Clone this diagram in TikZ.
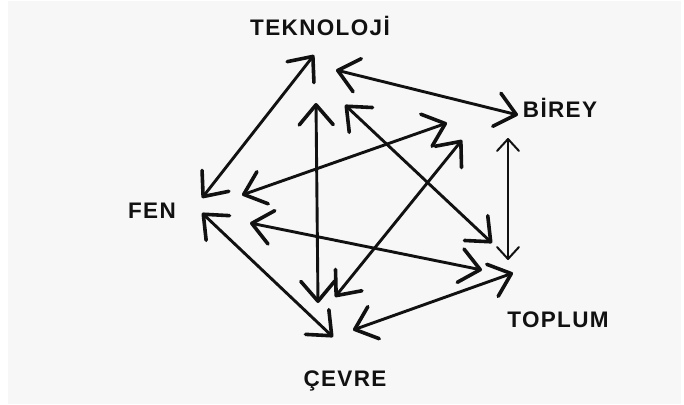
\documentclass[tikz,border=0pt]{standalone}
\usepackage{fontspec}
\setmainfont{Liberation Sans}
\newfontfamily\lblfont[LetterSpace=6]{Liberation Sans}
\usetikzlibrary{arrows.meta}
\definecolor{bgc}{HTML}{F7F7F7}
\definecolor{ink}{HTML}{111111}
\begin{document}
\begin{tikzpicture}[x=1pt,y=-1pt,
  lbl/.style={font={\lblfont\bfseries\fontsize{22.5}{26}\selectfont}, inner sep=0pt, anchor=base, text=ink},
  hd/.tip={Straight Barb[length=20pt,width=34pt,round,line width=3.6pt]},
  hdthin/.tip={Straight Barb[length=12pt,width=22pt,round,line width=2pt]},
  link/.style={draw=ink, line width=2.9pt, line cap=round, hd-hd},
  thinlink/.style={draw=ink, line width=1.4pt, line cap=round, hdthin-hdthin}]
\useasboundingbox (0,0) rectangle (684,404);
\fill[white] (0,0) rectangle (684,404);
\fill[bgc] (8,1) rectangle (681,404);
% labels
\node[lbl] (tek) at (320,36) {TEKNOLOJİ};
\node[lbl] (bir) at (560,117) {BİREY};
\node[lbl] (fen) at (152,218) {FEN};
\node[lbl] (top) at (558,327) {TOPLUM};
\node[lbl] (cev) at (345,386) {ÇEVRE};
% arrow tips around TEKNOLOJI
\coordinate (t1) at (314,55);
\coordinate (t2) at (336,70);
\coordinate (t3) at (316,103);
\coordinate (t4) at (345,105);
% around BIREY
\coordinate (b1) at (518,115);
\coordinate (b2) at (447,123);
\coordinate (b3) at (462,140);
\coordinate (b4) at (508,138);
% around FEN
\coordinate (f1) at (202,198);
\coordinate (f2) at (202,213);
\coordinate (f3) at (242,195);
\coordinate (f4) at (250,223);
% around CEVRE
\coordinate (c1) at (318,303);
\coordinate (c2) at (335,297);
\coordinate (c3) at (333,337);
\coordinate (c4) at (353,330);
% around TOPLUM
\coordinate (p1) at (492,243);
\coordinate (p2) at (482,270);
\coordinate (p3) at (508,260);
\coordinate (p4) at (513,273);
% outer pentagon
\draw[link] (t1) -- (f1);
\draw[link] (t2) -- (b1);
\draw[link] (f2) -- (c3);
\draw[link] (c4) -- (p4);
\draw[thinlink] (b4) -- (p3);
% inner star
\draw[link] (t3) -- (c1);
\draw[link] (t4) -- (p1);
\draw[link] (f3) -- (b2);
\draw[link] (b3) -- (c2);
\draw[link] (f4) -- (p2);
\end{tikzpicture}
\end{document}
